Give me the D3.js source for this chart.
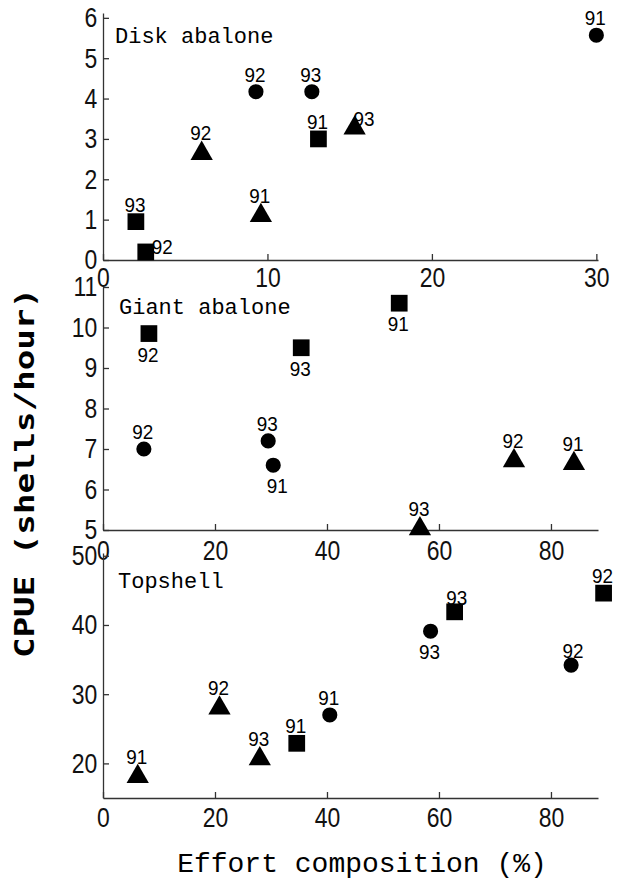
<!DOCTYPE html>
<html>
<head>
<meta charset="utf-8">
<script src="https://cdn.jsdelivr.net/npm/d3@7"></script>
<style>
  body { margin: 0; background: #fff; }
  svg { display: block; }
  .tick text { font-family: "Liberation Sans", sans-serif; font-size: 28px; fill: #111; }
  .tick line, .domain { stroke: #333; stroke-width: 1.3; }
  .pt { font-family: "Liberation Sans", sans-serif; font-size: 21px; fill: #000; }
  .title { font-family: "Liberation Mono", "DejaVu Sans Mono", monospace; font-size: 22px; fill: #000; }
</style>
</head>
<body>
<script>
// data: x = effort composition (%), y = CPUE (shells/hour)
const years = ["91", "92", "93"]

// Disk abalone
const diskCircleX = [30.0, 9.3, 12.7]
const diskCircleY = [5.57, 4.17, 4.17]
const diskSquareX = [13.1, 2.6, 2.0]
const diskSquareY = [3.0, 0.2, 0.95]
const diskTriX = [9.6, 6.0, 15.3]
const diskTriY = [1.1, 2.64, 3.27]

// Giant abalone
const giantCircleX = [30.4, 7.3, 29.5]
const giantCircleY = [6.6, 7.0, 7.2]
const giantSquareX = [52.9, 8.2, 35.4]
const giantSquareY = [10.6, 9.85, 9.5]
const giantTriX = [84.1, 73.4, 56.6]
const giantTriY = [6.64, 6.71, 5.03]

// Topshell
const topCircleX = [40.5, 83.6, 58.5]
const topCircleY = [27.0, 34.2, 39.1]
const topSquareX = [34.6, 89.4, 62.8]
const topSquareY = [22.9, 44.6, 41.9]
const topTriX = [6.2, 20.8, 28.0]
const topTriY = [18.1, 28.0, 20.65]

// tick labels
const diskXTicks = [0, 10, 20, 30]
const diskYTicks = [0, 1, 2, 3, 4, 5, 6]
const giantXTicks = [0, 20, 40, 60, 80]
const giantYTicks = [5, 6, 7, 8, 9, 10, 11]
const topXTicks = [0, 20, 40, 60, 80]
const topYTicks = [20, 30, 40, 50]

// where the year label sits (default is above)
const labelAt = {
  "disk-square-92": "right",
  "disk-tri-93": "upright",
  "giant-square-91": "below", "giant-square-92": "below", "giant-square-93": "below",
  "giant-circle-91": "belowright",
  "top-circle-93": "below",
  "top-square-93": "tight", "top-circle-92": "tight"
}

const w = 618
const h = 881

const svg = d3.select("body").append("svg")
  .attr("width", w)
  .attr("height", h)

svg.append("rect").attr("width", w).attr("height", h).attr("fill", "#fff")

const pts = (xs, ys) => xs.map((x, i) => ({x: x, y: ys[i], yr: years[i]}))

const panels = [
  {key: "disk", title: "Disk abalone", tx: 115, ty: 43,
   xDom: [0, 30.1], yDom: [0, 6.12], yRange: [260, 13], xTicks: diskXTicks, yTicks: diskYTicks, pad: 7,
   circle: pts(diskCircleX, diskCircleY), square: pts(diskSquareX, diskSquareY), tri: pts(diskTriX, diskTriY)},
  {key: "giant", title: "Giant abalone", tx: 119, ty: 314,
   xDom: [0, 88.4], yDom: [5, 11], yRange: [530, 287], xTicks: giantXTicks, yTicks: giantYTicks, pad: 10,
   circle: pts(giantCircleX, giantCircleY), square: pts(giantSquareX, giantSquareY), tri: pts(giantTriX, giantTriY)},
  {key: "top", title: "Topshell", tx: 118, ty: 588,
   xDom: [0, 88.4], yDom: [15, 50.4], yRange: [798, 553], xTicks: topXTicks, yTicks: topYTicks, pad: 9,
   circle: pts(topCircleX, topCircleY), square: pts(topSquareX, topSquareY), tri: pts(topTriX, topTriY)}
]

const shapes = {
  circle: d3.symbol().type(d3.symbolCircle).size(180),
  square: d3.symbol().type(d3.symbolSquare).size(280),
  tri: d3.symbol().type(d3.symbolTriangle).size(215)
}

panels.forEach(p => {
  const x = d3.scaleLinear().domain(p.xDom).range([103, 598])
  const y = d3.scaleLinear().domain(p.yDom).range(p.yRange)
  const g = svg.append("g")

  g.append("g")
    .attr("transform", "translate(0," + p.yRange[0] + ")")
    .call(d3.axisBottom(x).tickValues(p.xTicks).tickFormat(d3.format("d"))
      .tickSizeInner(-6).tickSizeOuter(0).tickPadding(p.pad))
    .selectAll(".tick text").attr("transform", "scale(0.82,1)")

  g.append("g")
    .attr("transform", "translate(103,0)")
    .call(d3.axisLeft(y).tickValues(p.yTicks).tickFormat(d3.format("d"))
      .tickSizeInner(-6).tickSizeOuter(0).tickPadding(7))
    .selectAll(".tick text").attr("transform", "scale(0.82,1)")

  g.append("text")
    .attr("class", "title")
    .attr("x", p.tx)
    .attr("y", p.ty)
    .attr("font-size", p.key === "top" ? 21 : 22)
    .text(p.title)

  Object.keys(shapes).forEach(s => {
    const grp = g.append("g")
    grp.selectAll("path")
      .data(p[s])
      .enter()
      .append("path")
      .attr("d", shapes[s])
      .attr("transform", d => "translate(" + x(d.x) + "," + y(d.y) + ")")
      .attr("fill", "#000")

    // year labels, a bit condensed like the original
    grp.selectAll("text")
      .data(p[s])
      .enter()
      .append("text")
      .attr("class", "pt")
      .attr("text-anchor", d => {
        const pos = labelAt[p.key + "-" + s + "-" + d.yr]
        return (pos === "right" || pos === "upright") ? "start" : "middle"
      })
      .attr("transform", d => {
        const pos = labelAt[p.key + "-" + s + "-" + d.yr]
        const cx = x(d.x), cy = y(d.y)
        let lx = cx - 1, ly = cy - (s === "tri" ? 13 : 10)
        if (pos === "right") { lx = cx + 6; ly = cy + 2 }
        if (pos === "upright") { lx = cx - 1; ly = cy - 2 }
        if (pos === "below") { ly = cy + 28 }
        if (pos === "belowright") { lx = cx + 4; ly = cy + 28 }
        if (pos === "tight") { lx = cx + 2; ly = cy - 7 }
        return "translate(" + lx + "," + ly + ") scale(0.9,1)"
      })
      .text(d => d.yr)
  })
})

// axis titles
svg.append("text")
  .attr("transform", "translate(34,473) rotate(-90)")
  .attr("text-anchor", "middle")
  .attr("font-family", "'DejaVu Sans Mono', monospace")
  .attr("font-weight", "bold")
  .attr("font-size", 27)
  .attr("textLength", 370)
  .attr("lengthAdjust", "spacingAndGlyphs")
  .text("CPUE (shells/hour)")

svg.append("text")
  .attr("x", 362)
  .attr("y", 872)
  .attr("text-anchor", "middle")
  .attr("font-family", "'Liberation Mono', monospace")
  .attr("font-size", 28)
  .text("Effort composition (%)")
</script>
</body>
</html>
